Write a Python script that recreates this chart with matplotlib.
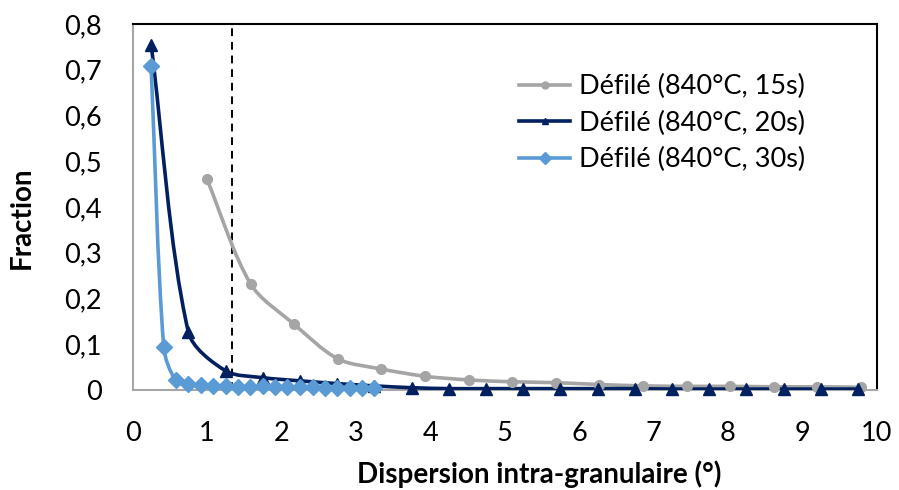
import numpy as np
import matplotlib
matplotlib.use("Agg")
import matplotlib.pyplot as plt
from matplotlib.path import Path
from matplotlib.patches import PathPatch
from matplotlib.lines import Line2D
from matplotlib.ticker import FuncFormatter

plt.rcParams['font.family'] = ['Lato', 'DejaVu Sans']

# ---- data ----
x15 = [1.00, 1.59, 2.17, 2.76, 3.34, 3.93, 4.52, 5.10, 5.69, 6.27, 6.86, 7.45, 8.03, 8.62, 9.20, 9.79]
y15 = [0.461, 0.231, 0.144, 0.068, 0.046, 0.030, 0.022, 0.018, 0.016, 0.012, 0.009, 0.008, 0.008, 0.007, 0.007, 0.006]

x20 = [0.25, 0.75, 1.25, 1.75, 2.25, 2.75, 3.25, 3.75, 4.25, 4.75, 5.25, 5.75, 6.25, 6.75, 7.25, 7.75, 8.25, 8.75, 9.25, 9.75]
y20 = [0.755, 0.127, 0.042, 0.027, 0.020, 0.014, 0.009, 0.005, 0.003, 0.003, 0.003, 0.003, 0.003, 0.003, 0.002, 0.002, 0.002, 0.002, 0.002, 0.002]

x30 = [0.25, 0.42, 0.58, 0.75, 0.92, 1.08, 1.25, 1.42, 1.58, 1.75, 1.92, 2.08, 2.25, 2.42, 2.58, 2.75, 2.92, 3.08, 3.25]
y30 = [0.708, 0.093, 0.021, 0.013, 0.011, 0.009, 0.008, 0.007, 0.007, 0.008, 0.007, 0.006, 0.006, 0.006, 0.005, 0.005, 0.005, 0.005, 0.005]

labels = ['Défilé (840°C, 15s)', 'Défilé (840°C, 20s)', 'Défilé (840°C, 30s)']
colors = ['#A5A5A5', '#002060', '#5B9BD5']
markers = ['o', '^', 'D']
vline_x = 1.34

xticks = list(range(0, 11))
yticks = [0, 0.1, 0.2, 0.3, 0.4, 0.5, 0.6, 0.7, 0.8]

W, H = 899, 490
fig = plt.figure(figsize=(W / 100, H / 100), dpi=100)
ax = fig.add_axes([132.5 / W, (H - 390) / H, (876.7 - 132.5) / W, (390 - 24) / H])
ax.set_xlim(0, 10)
ax.set_ylim(0, 0.8)


def smooth_path(xs, ys):
    # Bezier smoothing computed in display space (like a spreadsheet smoothed line)
    pts = ax.transData.transform(np.column_stack([xs, ys]))
    n = len(pts)
    verts = [pts[0]]
    codes = [Path.MOVETO]
    for i in range(n - 1):
        p0 = pts[i - 1] if i > 0 else pts[i]
        p1 = pts[i]
        p2 = pts[i + 1]
        p3 = pts[i + 2] if i + 2 < n else pts[i + 1]
        d = np.hypot(*(p2 - p1))
        t1 = p2 - p0
        t2 = p3 - p1
        t1 = t1 / (np.hypot(*t1) or 1)
        t2 = t2 / (np.hypot(*t2) or 1)
        c1 = p1 + t1 * d * 0.3
        c2 = p2 - t2 * d * 0.3
        verts += [c1, c2, p2]
        codes += [Path.CURVE4] * 3
    verts = ax.transData.inverted().transform(np.array(verts))
    return Path(verts, codes)


series = [(x15, y15), (x20, y20), (x30, y30)]
msizes = [7, 8, 8]
for (xs, ys), c, m, ms in zip(series, colors, markers, msizes):
    ax.add_patch(PathPatch(smooth_path(xs, ys), fill=False, edgecolor=c, lw=2.6,
                           transform=ax.transData, zorder=3, capstyle='round'))
    ax.plot(xs, ys, ls='none', marker=m, ms=ms, color=c, mec=c, zorder=4, clip_on=False)

ax.axvline(vline_x, color='black', lw=1.4, ls=(0, (4, 3)), zorder=2)

ax.set_xticks(xticks)
ax.set_yticks(yticks)
ax.yaxis.set_major_formatter(FuncFormatter(lambda v, p: '0' if v == 0 else f'{v:.1f}'.replace('.', ',')))
ax.tick_params(length=0, labelsize=19.5, pad=22)

for s in ['left', 'bottom']:
    ax.spines[s].set_color('#A6A6A6')
    ax.spines[s].set_linewidth(1.5)
for s in ['top', 'right']:
    ax.spines[s].set_color('black')
    ax.spines[s].set_linewidth(1.5)

fig.text(539 / W, (H - 474) / H, 'Dispersion intra-granulaire (°)', fontsize=20,
         fontweight='bold', ha='center', va='center')
fig.text(22 / W, (H - 217.5) / H, 'Fraction', fontsize=20, fontweight='bold',
         rotation=90, ha='center', va='center')

handles = [Line2D([0], [0], color=c, lw=2.6, marker=m, ms=ms)
           for c, m, ms in zip(colors, markers, [5, 5, 6])]
fig.legend(handles, labels, loc='center left', bbox_to_anchor=(519 / W, (H - 123) / H),
           frameon=False, fontsize=19.5, handlelength=1.9, handletextpad=0.3,
           labelspacing=0.42, borderpad=0, borderaxespad=0)

fig.savefig('out.png', dpi=100)
